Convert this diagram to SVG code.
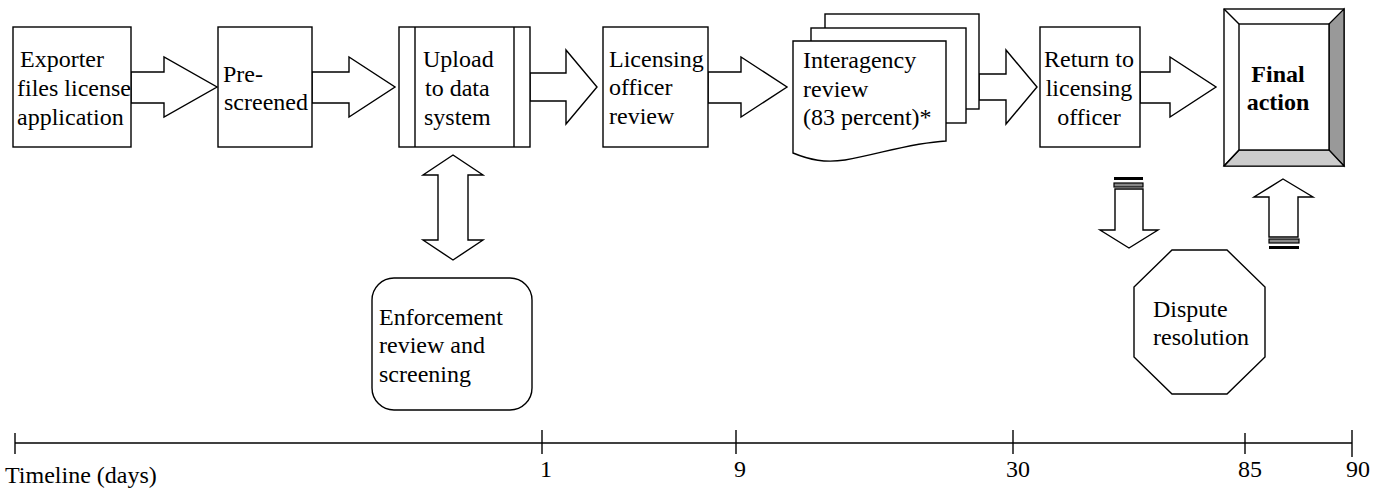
<svg xmlns="http://www.w3.org/2000/svg" width="1381" height="489" viewBox="0 0 1381 489">
<style>
.b{fill:#fff;stroke:#000;stroke-width:1.4}
.a{fill:#fff;stroke:#000;stroke-width:1.4;stroke-linejoin:miter}
.t{font-family:"Liberation Serif","Times New Roman",serif;font-size:24px;fill:#000}
.tb{font-family:"Liberation Serif","Times New Roman",serif;font-size:24px;font-weight:bold;fill:#000}
.ln{stroke:#000;stroke-width:1.4;fill:none}
</style>
<rect width="1381" height="489" fill="#fff"/>
<g id="connectors">
<polygon class="a" points="131,72 164,72 164,57 217,87 164,117 164,103 131,103"/>
<polygon class="a" points="312,72 349,72 349,57 395,87 349,117 349,103 312,103"/>
<polygon class="a" points="530,73 566,73 566,50 597,87 566,124 566,101 530,101"/>
<polygon class="a" points="708,72 741,72 741,57 787,87 741,117 741,103 708,103"/>
<polygon class="a" points="979,74 1006,74 1006,50 1037,87 1006,124 1006,100 979,100"/>
<polygon class="a" points="1140,72 1170,72 1170,57 1216,87 1170,117 1170,103 1140,103"/>
<polygon class="a" points="453,155 483,175 468,175 468,240 483,240 453,260 423,240 438,240 438,175 423,175"/>
<g id="striped-down">
<rect x="1114" y="177" width="29" height="3" fill="#000"/>
<rect x="1114" y="183" width="29" height="4" fill="#888" stroke="#000" stroke-width="1.2"/>
<polygon class="a" points="1115,189 1143,189 1143,230 1158,230 1129,248 1100,230 1115,230"/>
</g>
<g id="striped-up">
<polygon class="a" points="1283,179 1313,197 1298,197 1298,237 1269,237 1269,197 1254,197"/>
<rect x="1269" y="239" width="30" height="4" fill="#888" stroke="#000" stroke-width="1.2"/>
<rect x="1269" y="246" width="30" height="3" fill="#000"/>
</g>
</g>
<g id="exporter">
<rect class="b" x="13" y="27" width="118" height="120"/>
<text class="t" x="20" y="67">Exporter</text>
<text class="t" x="17" y="96">files license</text>
<text class="t" x="17" y="125">application</text>
</g>
<g id="prescreened">
<rect class="b" x="218" y="27" width="94" height="120"/>
<text class="t" x="223" y="82">Pre-</text>
<text class="t" x="224" y="110">screened</text>
</g>
<g id="upload">
<rect class="b" x="399" y="27" width="131" height="120"/>
<line class="ln" x1="415" y1="27" x2="415" y2="147"/>
<line class="ln" x1="514" y1="27" x2="514" y2="147"/>
<text class="t" x="423" y="67">Upload</text>
<text class="t" x="425" y="96">to data</text>
<text class="t" x="424" y="125">system</text>
</g>
<g id="licensing">
<rect class="b" x="603" y="27" width="105" height="120"/>
<text class="t" x="609" y="67">Licensing</text>
<text class="t" x="609" y="95">officer</text>
<text class="t" x="609" y="124">review</text>
</g>
<g id="interagency">
<rect class="b" x="825" y="14" width="154" height="95"/>
<rect class="b" x="811" y="28" width="155" height="95"/>
<path class="b" d="M793,41 L946,41 L946,141 C910,143 880,154 845,160 C825,163 810,160 793,153 Z"/>
<text class="t" x="803" y="68">Interagency</text>
<text class="t" x="803" y="97">review</text>
<text class="t" x="803" y="125">(83 percent)*</text>
</g>
<g id="return">
<rect class="b" x="1040" y="27" width="100" height="120"/>
<text class="t" x="1089" y="67" text-anchor="middle">Return to</text>
<text class="t" x="1089" y="96" text-anchor="middle">licensing</text>
<text class="t" x="1089" y="125" text-anchor="middle">officer</text>
</g>
<g id="final">
<rect x="1224" y="9" width="120" height="157" fill="#fff" stroke="#000" stroke-width="1.4"/>
<polygon points="1329,24 1344,9 1344,166 1329,150" fill="#999" stroke="#000" stroke-width="1.2"/>
<polygon points="1239,150 1329,150 1344,166 1224,166" fill="#ccc" stroke="#000" stroke-width="1.2"/>
<line class="ln" x1="1224" y1="9" x2="1239" y2="24"/>
<line class="ln" x1="1224" y1="166" x2="1239" y2="150"/>
<rect x="1239" y="24" width="90" height="126" fill="#fff" stroke="#000" stroke-width="1.4"/>
<text class="tb" x="1278" y="82" text-anchor="middle">Final</text>
<text class="tb" x="1278" y="110" text-anchor="middle">action</text>
</g>
<g id="enforcement">
<rect class="b" x="372" y="278" width="160" height="132" rx="22" ry="22"/>
<text class="t" x="379" y="325">Enforcement</text>
<text class="t" x="379" y="353">review and</text>
<text class="t" x="379" y="382">screening</text>
</g>
<g id="dispute">
<polygon class="b" points="1172,250 1227,250 1265,287 1265,357 1227,394 1172,394 1134,357 1134,287"/>
<text class="t" x="1153" y="317">Dispute</text>
<text class="t" x="1153" y="345">resolution</text>
</g>
<g id="timeline">
<line class="ln" x1="15" y1="443" x2="1352" y2="443"/>
<line class="ln" x1="15" y1="433" x2="15" y2="454"/>
<line class="ln" x1="542" y1="430" x2="542" y2="454"/>
<line class="ln" x1="736" y1="430" x2="736" y2="454"/>
<line class="ln" x1="1013" y1="430" x2="1013" y2="454"/>
<line class="ln" x1="1245" y1="433" x2="1245" y2="454"/>
<line class="ln" x1="1352" y1="430" x2="1352" y2="457"/>
<text class="t" x="5" y="483">Timeline (days)</text>
<text class="t" x="546" y="477" text-anchor="middle">1</text>
<text class="t" x="740" y="477" text-anchor="middle">9</text>
<text class="t" x="1018" y="477" text-anchor="middle">30</text>
<text class="t" x="1250" y="477" text-anchor="middle">85</text>
<text class="t" x="1358" y="477" text-anchor="middle">90</text>
</g>
</svg>
